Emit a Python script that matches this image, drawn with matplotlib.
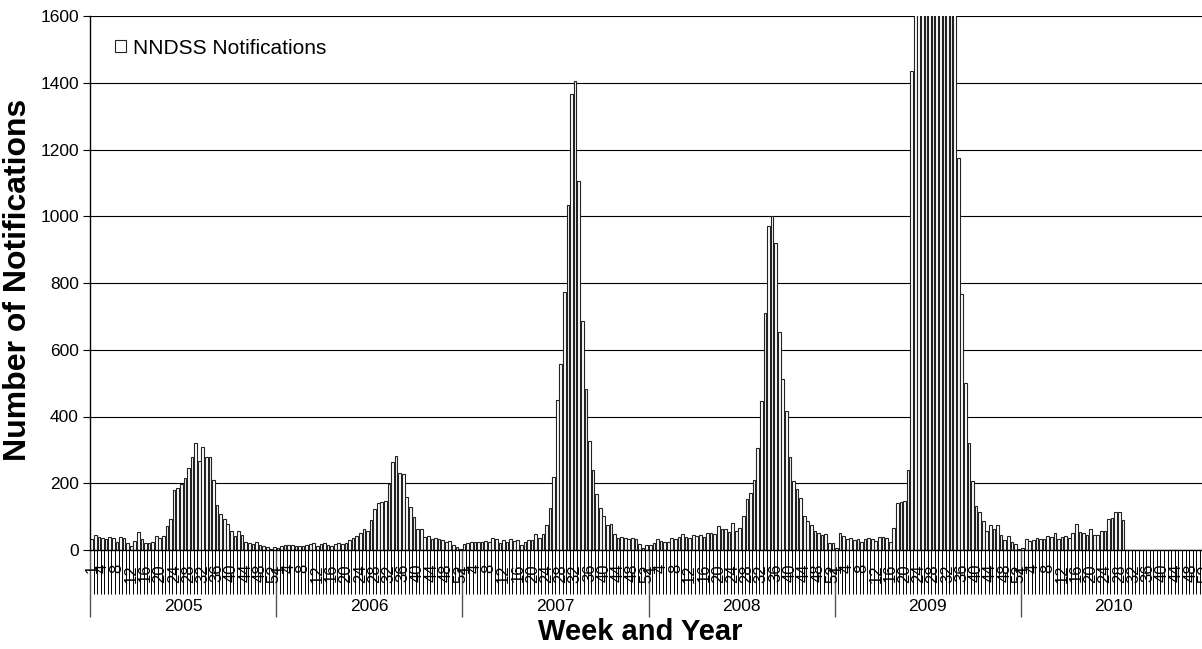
import matplotlib
matplotlib.use("Agg")
import matplotlib.pyplot as plt
import numpy as np

plt.rcParams['font.family'] = ['Liberation Sans', 'DejaVu Sans']

# weekly NNDSS notifications, weeks 1-52 of each year
years = [2005, 2006, 2007, 2008, 2009, 2010]
w2005 = [32, 45, 38, 35, 33, 38, 36, 25, 38, 35, 20, 12, 28, 53, 32, 22, 22, 25, 42, 36,
         42, 72, 92, 180, 185, 198, 215, 245, 280, 320, 268, 310, 278, 278, 210, 136, 108, 92, 78, 58,
         42, 56, 44, 25, 22, 18, 25, 16, 12, 8, 3, 10]
w2006 = [5, 12, 15, 15, 14, 12, 13, 13, 14, 18, 22, 12, 18, 22, 16, 12, 17, 20, 18, 20,
         30, 35, 42, 52, 62, 58, 90, 122, 142, 143, 148, 198, 265, 282, 230, 228, 158, 128, 98, 62,
         62, 40, 42, 32, 36, 32, 30, 25, 28, 15, 8, 3]
w2007 = [18, 20, 23, 23, 24, 25, 27, 25, 36, 34, 20, 30, 25, 32, 27, 30, 16, 23, 30, 30,
         47, 37, 48, 74, 127, 218, 448, 556, 774, 1033, 1365, 1405, 1105, 686, 483, 326, 240, 168, 127, 101,
         74, 79, 47, 37, 39, 36, 34, 36, 32, 18, 7, 15]
w2008 = [14, 20, 32, 28, 23, 25, 37, 34, 40, 48, 39, 35, 44, 42, 45, 40, 51, 50, 49, 72,
         62, 64, 55, 81, 58, 66, 103, 153, 172, 209, 306, 446, 709, 970, 1002, 919, 652, 512, 416, 279,
         206, 183, 155, 103, 87, 76, 57, 51, 45, 49, 20, 20]
w2009 = [6, 50, 42, 32, 37, 30, 34, 23, 32, 36, 34, 27, 40, 40, 36, 25, 66, 140, 144, 147,
         241, 1436, 1900, 2500, 3200, 3900, 4400, 4600, 4300, 3800, 3100, 2500, 2000, 1700, 1175, 766, 501, 321, 206, 132,
         113, 87, 58, 74, 62, 76, 45, 29, 42, 25, 18, 4]
w2010 = [7, 34, 26, 30, 37, 34, 32, 42, 38, 51, 32, 40, 42, 35, 51, 78, 55, 50, 44, 64,
         45, 44, 57, 57, 92, 95, 115, 115, 90]
week_labels = [1, 4, 8, 12, 16, 20, 24, 28, 32, 36, 40, 44, 48, 52]

values = w2005 + w2006 + w2007 + w2008 + w2009 + w2010 + [0] * (52 - len(w2010))
n = len(values)
x = np.arange(n) + 0.5

fig = plt.figure(figsize=(12.02, 6.49), dpi=100)
ax = fig.add_axes([90 / 1202, 99 / 649, 1117 / 1202, 534 / 649])

bars = ax.bar(x, values, width=0.75, color='white', edgecolor='#222222', linewidth=0.8)
ax.set_xlim(0, n)
ax.set_ylim(0, 1600)
ax.set_yticks(np.arange(0, 1601, 200))
ax.yaxis.grid(True, color='black', linewidth=0.8)
ax.set_axisbelow(True)

for s in ['top', 'right']:
    ax.spines[s].set_visible(False)
ax.spines['left'].set_linewidth(1.0)
ax.spines['bottom'].set_linewidth(1.0)

ax.set_xticks(np.arange(0, n + 1))
ax.set_xticklabels([])
ax.tick_params(axis='x', length=32, width=0.7, color='black', direction='out')
ax.tick_params(axis='y', length=5, width=0.8, labelsize=12.5, pad=3)

trans = ax.get_xaxis_transform()
for k, yr in enumerate(years):
    for wk in week_labels:
        ax.text(k * 52 + wk - 0.5, -0.026, str(wk), transform=trans, rotation=90,
                ha='center', va='top', fontsize=12)
    ax.text(k * 52 + 26, -0.105, str(yr), transform=trans, ha='center', va='center',
            fontsize=12.5)
ax.vlines(np.arange(0, n + 1, 52), -0.125, 0, transform=trans, clip_on=False,
          color='#555555', linewidth=1)

ax.legend([bars], ['NNDSS Notifications'], loc='center left', bbox_to_anchor=(0.0224, 0.94),
          frameon=False, borderpad=0, borderaxespad=0, handlelength=0.55, handleheight=0.55,
          handletextpad=0.3, fontsize=15)

fig.text(640 / 1202, 1 - 632 / 649, 'Week and Year', ha='center', va='center',
         fontsize=21, fontweight='bold')
fig.text(18 / 1202, 1 - 280 / 649, 'Number of Notifications', ha='center', va='center',
         rotation=90, fontsize=23, fontweight='bold')

fig.savefig('out.png', dpi=100)
